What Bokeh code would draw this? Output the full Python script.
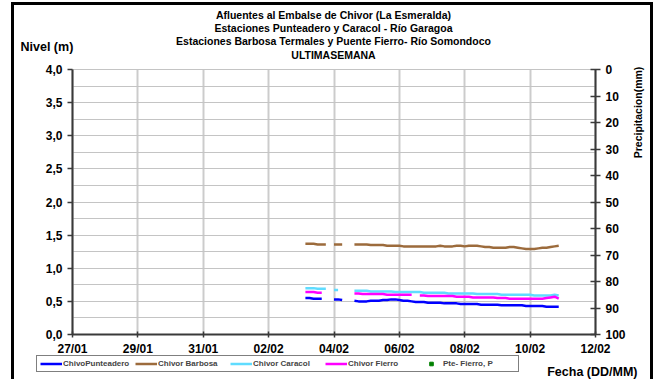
import numpy as np
import pandas as pd
from bokeh.plotting import figure
from bokeh.models import (Range1d, LinearAxis, FixedTicker, CustomJSTickFormatter, Grid,
                          DatetimeTickFormatter, Legend, LegendItem, ColumnDataSource, Label)
from bokeh.embed import file_html
from bokeh.resources import INLINE

nan = float("nan")

# ---------------- data ----------------
title_lines = [
    "Afluentes al Embalse de Chivor (La Esmeralda)",
    "Estaciones Punteadero y Caracol - Río Garagoa",
    "Estaciones Barbosa Termales y Puente Fierro- Río Somondoco",
    "ULTIMASEMANA",
]
y_title = "Nivel (m)"
x_title = "Fecha (DD/MM)"
y2_title = "Precipitacion(mm)"
date_ticks = ["2011-01-27", "2011-01-29", "2011-01-31", "2011-02-02", "2011-02-04",
              "2011-02-06", "2011-02-08", "2011-02-10", "2011-02-12"]
nivel_ticks = [0.0, 0.5, 1.0, 1.5, 2.0, 2.5, 3.0, 3.5, 4.0]
nivel_grid = [0.25, 0.5, 0.75, 1.0, 1.25, 1.5, 1.75, 2.0, 2.25, 2.5, 2.75, 3.0, 3.25, 3.5, 3.75, 4.0]
precip_ticks = [0, 10, 20, 30, 40, 50, 60, 70, 80, 90, 100]

# readings every 3 hours from 03/02 03:00 to 10/02 21:00 (63 readings)
times = pd.date_range("2011-02-03 03:00", periods=63, freq="3h")

punteadero = [0.55, 0.55, 0.54, 0.54, 0.54, nan, nan,
              0.53, 0.53, 0.52, nan, nan,
              0.51, 0.50, 0.50, 0.50, 0.51, 0.51, 0.51, 0.52, 0.52, 0.53, 0.53, 0.52, 0.51, 0.51, 0.50,
              0.49, 0.49, 0.49, 0.48,
              0.48, 0.48, 0.48, 0.47, 0.47, 0.47, 0.47, 0.46, 0.46, 0.46, 0.46, 0.46,
              0.45, 0.45, 0.45, 0.45, 0.45, 0.44, 0.44,
              0.44, 0.44, 0.44, 0.44,
              0.43, 0.43, 0.43, 0.43,
              0.43, 0.42, 0.42, 0.42, 0.42]

barbosa = [1.37, 1.37, 1.37, 1.36, 1.36, 1.36, nan,
           1.36, 1.36, 1.36, nan, nan,
           1.36, 1.36, 1.36, 1.36, 1.35, 1.35, 1.35, 1.35, 1.34, 1.34, 1.34, 1.34, 1.33, 1.33, 1.33,
           1.33, 1.33, 1.33, 1.33,
           1.33, 1.33, 1.34, 1.33, 1.33, 1.33, 1.34, 1.34, 1.33, 1.34, 1.34, 1.34,
           1.33, 1.32, 1.32, 1.31, 1.31, 1.31, 1.31,
           1.32, 1.32, 1.31, 1.30,
           1.29, 1.29, 1.29, 1.30,
           1.31, 1.31, 1.32, 1.33, 1.34]

caracol = [0.70, 0.70, 0.70, 0.69, 0.69, 0.69, nan,
           0.67, 0.67, nan, nan, nan,
           0.66, 0.66, 0.66, 0.66, 0.65, 0.65, 0.65, 0.65, 0.65, 0.65, 0.64, 0.64, 0.64, 0.64, 0.64,
           0.64, 0.64, 0.63, 0.63,
           0.63, 0.63, 0.63, 0.63, 0.62, 0.62, 0.62, 0.62, 0.62, 0.62, 0.62, 0.61,
           0.61, 0.61, 0.61, 0.61, 0.61, 0.60, 0.60,
           0.60, 0.60, 0.60, 0.60,
           0.60, 0.60, 0.59, 0.59,
           0.59, 0.59, 0.59, 0.60, 0.59]

fierro = [0.64, 0.64, 0.64, 0.63, 0.63, nan, nan,
          nan, nan, nan, nan, nan,
          0.62, 0.62, 0.61, 0.61, 0.61, 0.61, 0.61, 0.61, 0.60, 0.60, 0.60, 0.60, 0.60, 0.60, 0.60,
          nan, 0.59, 0.59, 0.58,
          0.58, 0.58, 0.58, 0.58, 0.58, 0.58, 0.57, 0.57, 0.57, 0.57, 0.56, 0.56,
          0.56, 0.56, 0.56, 0.56, 0.55, 0.55, 0.55,
          0.54, 0.54, 0.54, 0.54,
          0.54, 0.54, 0.54, 0.54,
          0.54, 0.55, 0.56, 0.57, 0.54]

# precipitation at Pte. Fierro: no readings shown in the week (one empty reading)
precip_times = [times[0]]
precip_vals = [nan]

series_names = ["ChivoPunteadero", "Chivor Barbosa", "Chivor Caracol", "Chivor Fierro",
                "Pte- Fierro, P"]
series_vals = [punteadero, barbosa, caracol, fierro]
series_colors = ["#0000ff", "#9c6b3c", "#5fdcff", "#ff00ff", "#008000"]

# ---------------- geometry ----------------
FONT = "Liberation Sans"
W, H = 642, 377                     # canvas size
ML, MR, MT, MB = 58, 61, 64, 48     # space around the data area, px

tick_ms = [pd.Timestamp(d).value / 1e6 for d in date_ticks]
x0, x1 = tick_ms[0], tick_ms[-1]
y_lo, y_hi = nivel_ticks[0], nivel_ticks[-1]
p_lo, p_hi = precip_ticks[0], precip_ticks[-1]

pxx = (W - ML - MR) / (x1 - x0)
pxy = (H - MT - MB) / (y_hi - y_lo)
pxp = (H - MT - MB) / (p_hi - p_lo)

p = figure(width=W, height=H, x_axis_type="datetime",
           x_range=Range1d(x0 - ML / pxx, x1 + MR / pxx),
           y_range=Range1d(y_lo - MB / pxy, y_hi + MT / pxy),
           output_backend="svg", toolbar_location=None,
           min_border_left=0, min_border_right=0, min_border_top=0, min_border_bottom=0)
try:
    p.title_location = None
except Exception:
    p.title.visible = False
p.styles = {"border-left": "3px solid black", "border-top": "3px solid black",
            "border-right": "3px solid black", "margin-left": "11px", "margin-top": "2px"}
p.outline_line_color = None
p.background_fill_color = "white"
p.border_fill_color = "white"
p.extra_y_ranges = {"pp": Range1d(p_hi + MB / pxp, p_lo - MT / pxp)}

axis_color = "#3a3a3a"
xa = p.xaxis[0]
xa.ticker = FixedTicker(ticks=tick_ms)
xa.formatter = DatetimeTickFormatter(days="%d/%m", months="%d/%m", hours="%d/%m")
xa.fixed_location = y_lo
xa.bounds = (x0, x1)
ya = p.yaxis[0]
ya.ticker = FixedTicker(ticks=nivel_ticks)
ya.formatter = CustomJSTickFormatter(code="return tick.toFixed(1).replace('.', ',');")
ya.fixed_location = x0
ya.bounds = (y_lo, y_hi)
ra = LinearAxis(y_range_name="pp", ticker=FixedTicker(ticks=precip_ticks))
ra.fixed_location = x1
ra.bounds = (p_lo, p_hi)
p.add_layout(ra, "right")

for ax in (xa, ya, ra):
    ax.axis_line_color = axis_color
    ax.axis_line_width = 2
    ax.major_tick_line_color = axis_color
    ax.major_tick_line_width = 1.5
    ax.minor_tick_line_color = None
    ax.major_label_text_font = FONT
    ax.major_label_text_font_style = "bold"
    ax.major_label_text_font_size = "12px"
    ax.major_label_text_color = "black"
xa.major_tick_in = 3
xa.major_tick_out = 3
xa.major_label_standoff = 4
ya.major_tick_in = 0
ya.major_tick_out = 5
ya.major_label_standoff = 5
ra.major_tick_in = 5
ra.major_tick_out = 5
ra.major_label_standoff = 5

# grid lines limited to the data area
grid_props = Grid.properties()
p.xgrid.ticker = FixedTicker(ticks=tick_ms)
p.ygrid.ticker = FixedTicker(ticks=nivel_grid)
if "cross_bounds" in grid_props:
    p.xgrid.cross_bounds = (y_lo, y_hi)
    p.ygrid.cross_bounds = (x0, x1)
    p.xgrid.grid_line_color = "#cccccc"
    p.xgrid.grid_line_width = 2
    p.ygrid.grid_line_color = "#c4c4c4"
    p.ygrid.grid_line_width = 1
else:
    p.xgrid.visible = False
    p.ygrid.visible = False
    p.segment(x0=tick_ms, y0=[y_lo] * len(tick_ms), x1=tick_ms, y1=[y_hi] * len(tick_ms),
              line_color="#cccccc", line_width=2, level="underlay")
    p.segment(x0=[x0] * len(nivel_grid), y0=nivel_grid, x1=[x1] * len(nivel_grid), y1=nivel_grid,
              line_color="#c4c4c4", line_width=1, level="underlay")

items = []
for name, vals, col in zip(series_names, series_vals, series_colors):
    src = ColumnDataSource(dict(t=times, v=np.array(vals, dtype=float)))
    r = p.line("t", "v", source=src, line_color=col, line_width=2.5)
    items.append(LegendItem(label=name, renderers=[r]))
psrc = ColumnDataSource(dict(t=precip_times, v=np.array(precip_vals, dtype=float)))
pr = p.scatter("t", "v", source=psrc, y_range_name="pp", marker="square", size=4,
               color=series_colors[4])
items.append(LegendItem(label=series_names[4], renderers=[pr]))

# ---- legend (inside the canvas-wide frame, under the x axis) ----
leg = Legend(items=items, orientation="horizontal", location=(22, 10))
leg.label_text_font = FONT
leg.label_text_font_style = "bold"
leg.label_text_font_size = "8px"
leg.glyph_width = 22
leg.glyph_height = 9
leg.label_height = 9
leg.label_standoff = 1
leg.label_width = 72
leg.spacing = 0
leg.padding = 3
leg.margin = 0
leg.border_line_color = "black"
leg.border_line_width = 1
leg.background_fill_color = "white"
leg.background_fill_alpha = 1
p.add_layout(leg, "center")


# ---- texts (screen units from the canvas bottom-left) ----
def txt(text, x, y, size, align="left", angle=0.0):
    p.add_layout(Label(x=x, y=y, x_units="screen", y_units="screen", text=text, angle=angle,
                       text_align=align, text_baseline="middle", text_font=FONT,
                       text_font_style="bold", text_font_size=size, text_color="black"))


title_y = [368, 355, 342, 328]
for line, yy in zip(title_lines, title_y):
    txt(line, 319, yy, "10.5px", align="center")
txt(y_title, 6, 336, "12.5px")
txt(x_title, 623, 11, "12.5px", align="right")
txt(y2_title, 623, 270, "10.5px", align="center", angle=float(np.pi / 2))

open("out.html", "w").write(file_html(p, INLINE))
